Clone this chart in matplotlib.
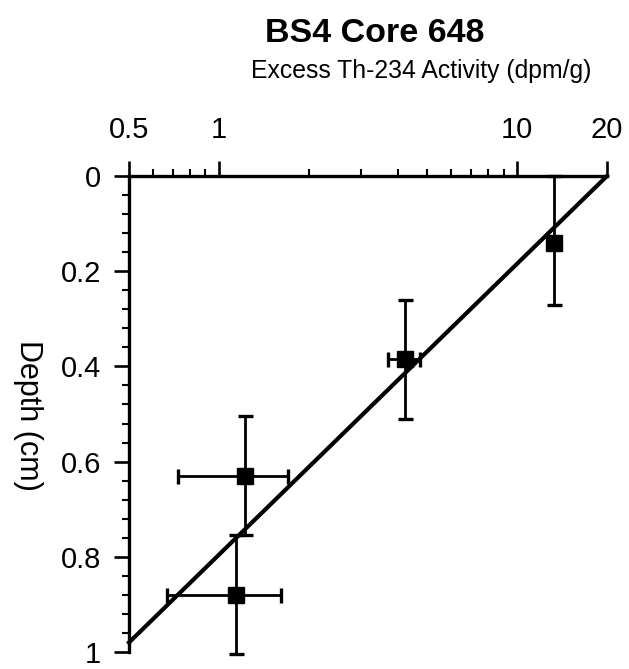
import matplotlib
matplotlib.use("Agg")
import matplotlib.pyplot as plt
from matplotlib.ticker import FixedLocator, NullFormatter

plt.rcParams['font.family'] = ['Liberation Sans', 'DejaVu Sans']

# ---- data ----
activity = [13.3, 4.2, 1.22, 1.14]          # excess Th-234 activity (dpm/g)
activity_err = [0.5, 0.51, 0.49, 0.47]
depth = [0.14, 0.385, 0.63, 0.88]            # depth (cm)
depth_err_up = [0.14, 0.125, 0.125, 0.125]   # toward the surface
depth_err_down = [0.13, 0.125, 0.125, 0.125]

fit_activity = [0.5, 20]                    # exponential fit line end points
fit_depth = [0.98, 0.0]

x_ticks = [0.5, 1, 10, 20]
x_tick_labels = ["0.5", "1", "10", "20"]
x_minor = [0.6, 0.7, 0.8, 0.9, 2, 3, 4, 5, 6, 7, 8, 9]
y_ticks = [0, 0.2, 0.4, 0.6, 0.8, 1]
y_tick_labels = ["0", "0.2", "0.4", "0.6", "0.8", "1"]
y_minor = [0.04, 0.08, 0.12, 0.16, 0.24, 0.28, 0.32, 0.36, 0.44, 0.48, 0.52, 0.56,
           0.64, 0.68, 0.72, 0.76, 0.84, 0.88, 0.92, 0.96]

title = "BS4 Core 648"
x_label = "Excess Th-234 Activity (dpm/g)"
y_label = "Depth (cm)"

W, H = 629, 669
fig = plt.figure(figsize=(W / 100, H / 100), dpi=100)
ax = fig.add_axes([129 / W, 1 - 652 / H, (607 - 129) / W, (652 - 176) / H])

ax.set_xscale('log')
ax.set_xlim(0.5, 20)
ax.set_ylim(1, 0)

ax.plot(fit_activity, fit_depth, color='black', lw=3.0, clip_on=False, zorder=2)
ax.errorbar(activity, depth, xerr=activity_err,
            yerr=[depth_err_up, depth_err_down], fmt='s',
            color='black', ms=11, elinewidth=2.0, capsize=5.4, capthick=2.4,
            zorder=3, clip_on=False)

ax.set_xticks(x_ticks)
ax.set_xticklabels(x_tick_labels)
ax.xaxis.set_minor_locator(FixedLocator(x_minor))
ax.xaxis.set_minor_formatter(NullFormatter())
ax.set_yticks(y_ticks)
ax.set_yticklabels(y_tick_labels)
ax.yaxis.set_minor_locator(FixedLocator(y_minor))

for s in ['right', 'bottom']:
    ax.spines[s].set_visible(False)
for s in ['top', 'left']:
    ax.spines[s].set_linewidth(2.4)

ax.tick_params(axis='x', which='both', top=True, bottom=False,
               labeltop=True, labelbottom=False, direction='out')
ax.tick_params(axis='x', which='major', length=11, width=1.9, pad=12, labelsize=21)
ax.tick_params(axis='x', which='minor', length=5, width=1.5)
ax.tick_params(axis='y', which='both', left=True, right=False, direction='out')
ax.tick_params(axis='y', which='major', length=11, width=1.9, pad=9, labelsize=21)
ax.tick_params(axis='y', which='minor', length=5, width=1.5)

fig.text(375 / W, 1 - 42 / H, title, ha='center', va='baseline',
         fontsize=24.5, fontweight='bold')
fig.text(421.5 / W, 1 - 78 / H, x_label, ha='center', va='baseline', fontsize=17.8)
fig.text(28 / W, 1 - 415 / H, y_label, ha='center', va='center',
         rotation=270, fontsize=22)

fig.savefig('out.png', dpi=100)
